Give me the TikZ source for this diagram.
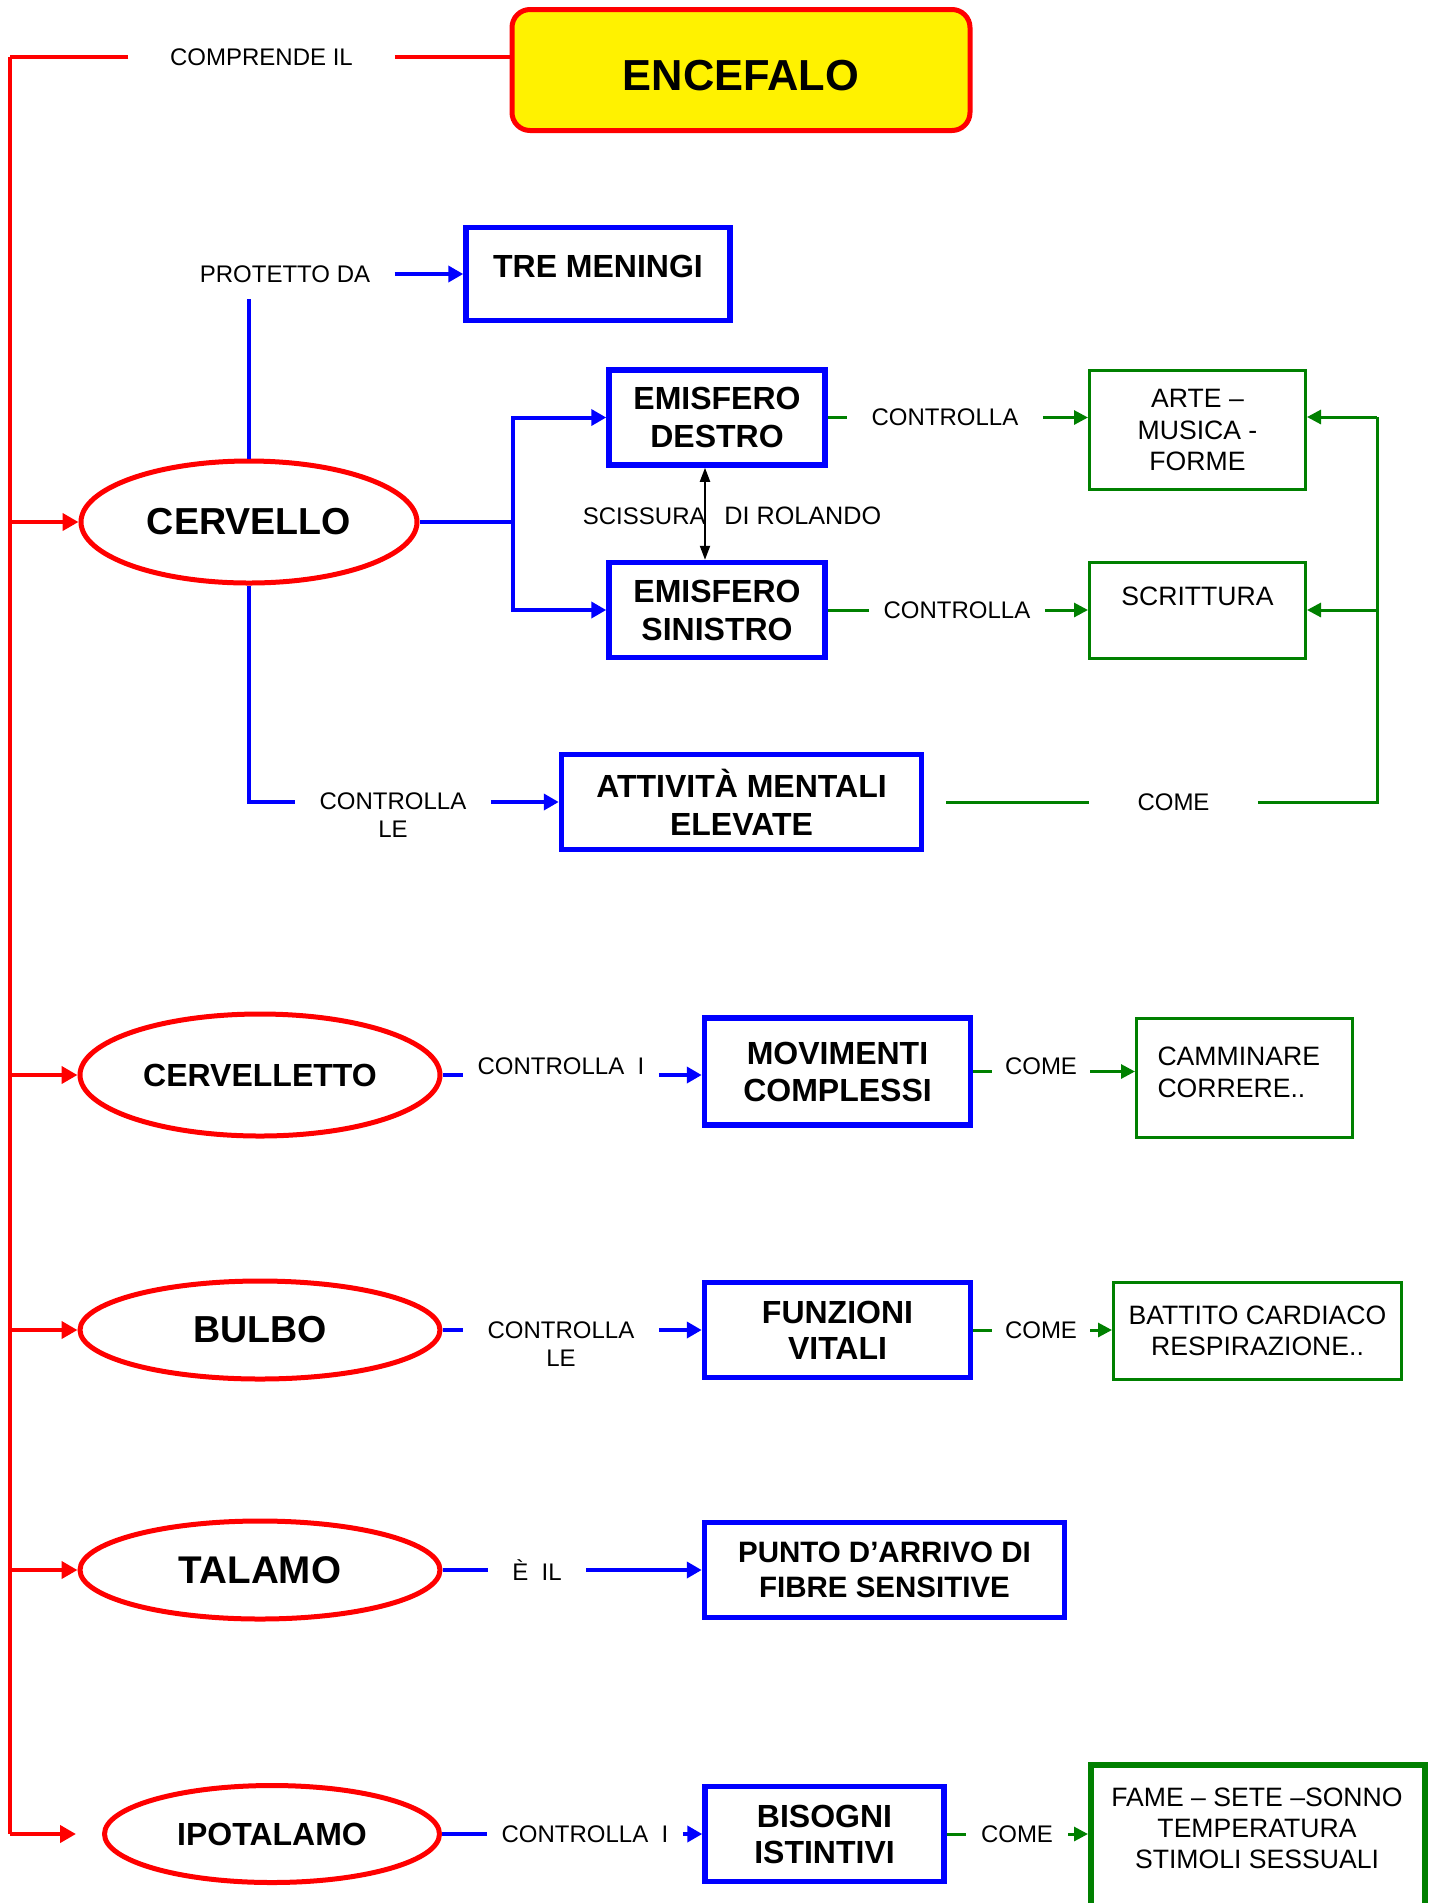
\documentclass[tikz,border=0pt]{standalone}
\usepackage{fontspec}
\setmainfont{Liberation Sans}
\usepackage{tikz}
\usetikzlibrary{shapes.geometric,arrows.meta,positioning}
\definecolor{ogreen}{RGB}{0,128,0}
\tikzstyle{roundbox} = [rectangle, rounded corners=9pt, draw=red, line width=2.5pt, fill=yellow, text=black, minimum width=229pt, minimum height=60.5pt, font=\bfseries\fontsize{21.7}{25}\selectfont]
\tikzstyle{organ} = [ellipse, draw=red, line width=2.5pt, text=black, inner sep=0pt, font=\bfseries\fontsize{18.8}{22}\selectfont]
\tikzstyle{bluebox} = [rectangle, draw=blue, line width=2.75pt, text=black, align=center, font=\bfseries\fontsize{16}{19}\selectfont]
\tikzstyle{greenbox} = [rectangle, draw=ogreen, line width=1.5pt, text=black, align=center, font=\fontsize{13.3}{15.75}\selectfont]
\tikzstyle{textonly} = [draw=none, fill=none, align=center, font=\fontsize{12}{14}\selectfont]
\tikzstyle{redline} = [draw=red, line width=2pt]
\tikzstyle{redarrow} = [draw=red, line width=2.2pt, -{Triangle[length=8pt,width=8.5pt]}]
\tikzstyle{blueline} = [draw=blue, line width=2pt]
\tikzstyle{bluearrow} = [blueline, -{Triangle[length=7.5pt,width=8pt]}]
\tikzstyle{greenline} = [draw=ogreen, line width=1.5pt]
\tikzstyle{greenarrow} = [greenline, -{Triangle[length=7pt,width=7pt]}]
\tikzstyle{biarrow} = [draw=black, line width=1pt, {Triangle[length=7pt,width=5pt]}-{Triangle[length=7pt,width=5pt]}]

\begin{document}
\begin{tikzpicture}[x=0.5pt,y=-0.5pt]
\useasboundingbox (0,0) rectangle (1438,1903);

% encefalo ===============================
\node[roundbox, text height=21pt] (enc) at (741,70) {ENCEFALO};
\node[textonly, inner xsep=20.75pt] (comp) at (261.5,57) {COMPRENDE IL};
\coordinate (spine) at (10,57);
\coordinate (spinebot) at (10,1834);

% cervello ===============================
\node[organ, minimum width=168pt, minimum height=61pt] (cerv) at (249,522) {CERVELLO};
\node[textonly, inner xsep=12pt, inner ysep=8pt] (prot) at (285,274) {PROTETTO DA};
\node[bluebox, minimum width=132pt, minimum height=46.5pt, text depth=8pt] (tre) at (598,274) {TRE MENINGI};
\coordinate (fork) at (513,522);
\node[bluebox, minimum width=108pt, minimum height=47.5pt] (des) at (717,417.5) {EMISFERO\\DESTRO};
\node[bluebox, minimum width=108pt, minimum height=47.5pt] (sin) at (717,610) {EMISFERO\\SINISTRO};
\node[textonly, anchor=east, inner sep=0pt] (sciss) at (706,516) {SCISSURA};
\node[textonly, anchor=west, inner sep=0pt, font=\fontsize{12.6}{14}\selectfont] (rol) at (724,516) {DI ROLANDO};
\node[textonly, inner xsep=12pt] (ctrlA) at (945,417.5) {CONTROLLA};
\node[textonly, inner xsep=7pt] (ctrlB) at (957,610) {CONTROLLA};
\node[greenbox, minimum width=108pt, minimum height=59.5pt] (arte) at (1197.5,430) {ARTE –\\MUSICA -\\FORME};
\node[greenbox, minimum width=108pt, minimum height=48pt, text depth=14pt] (scri) at (1197.5,610) {SCRITTURA};
\node[bluebox, minimum width=180pt, minimum height=47.5pt] (att) at (741.5,802) {ATTIVITÀ MENTALI\\ELEVATE};
\node[textonly, inner xsep=12pt] (cle) at (393,815) {CONTROLLA\\LE};
\node[textonly, inner xsep=24pt] (comeA) at (1173.5,802) {COME};
\coordinate (loop) at (1377,417);

% cervelletto ============================
\node[organ, minimum width=180pt, minimum height=61pt, font=\bfseries\fontsize{16}{19}\selectfont] (cerve) at (260,1075) {CERVELLETTO};
\node[textonly, inner xsep=7pt] (cli) at (561,1066) {CONTROLLA\ \ I};
\node[bluebox, minimum width=133pt, minimum height=53.5pt, font=\bfseries\fontsize{16}{18.5}\selectfont] (mov) at (837.5,1071.5) {MOVIMENTI\\COMPLESSI};
\node[textonly, inner xsep=6.5pt] (comeC) at (1041,1066) {COME};
\node[greenbox, minimum width=108pt, minimum height=59.5pt, align=left, text width=87pt, inner xsep=10pt, text depth=21.75pt] (cam) at (1244.5,1078) {CAMMINARE\\CORRERE..};

% bulbo ==================================
\node[organ, minimum width=180pt, minimum height=49pt] (bulbo) at (260,1330) {BULBO};
\node[textonly, inner xsep=12pt] (cle2) at (561,1344) {CONTROLLA\\LE};
\node[bluebox, minimum width=133pt, minimum height=47.5pt, font=\bfseries\fontsize{16}{18}\selectfont] (funz) at (837.5,1330) {FUNZIONI\\VITALI};
\node[textonly, inner xsep=6.5pt] (comeD) at (1041,1330) {COME};
\node[greenbox, minimum width=144pt, minimum height=48.5pt] (bat) at (1257.5,1331) {BATTITO CARDIACO\\RESPIRAZIONE..};

% talamo =================================
\node[organ, minimum width=180pt, minimum height=49pt, font=\bfseries\fontsize{19.3}{22}\selectfont] (tal) at (260,1570) {TALAMO};
\node[textonly, inner xsep=12pt] (eil) at (537,1570) {È\ \ IL};
\node[bluebox, minimum width=180pt, minimum height=47.5pt, font=\bfseries\fontsize{14.75}{17.5}\selectfont] (punto) at (884.5,1570) {PUNTO D’ARRIVO DI\\FIBRE SENSITIVE};

% ipotalamo ==============================
\node[organ, minimum width=167.5pt, minimum height=48.5pt, font=\bfseries\fontsize{16}{19}\selectfont] (ipo) at (272,1834) {IPOTALAMO};
\node[textonly, inner xsep=7pt] (cli2) at (585,1834) {CONTROLLA\ \ I};
\node[bluebox, minimum width=119.5pt, minimum height=47.5pt, font=\bfseries\fontsize{16}{18}\selectfont] (bis) at (824.5,1834) {BISOGNI\\ISTINTIVI};
\node[textonly, inner xsep=7.5pt] (comeE) at (1017,1834) {COME};
\node[greenbox, line width=3pt, minimum width=167pt, minimum height=83pt] (fame) at (1258,1848) {};
\node[textonly, font=\fontsize{13.3}{15.5}\selectfont] (fametxt) at (1257,1828) {FAME – SETE –SONNO\\TEMPERATURA\\STIMOLI SESSUALI};

% edges
\path[redline] (comp.east) -- (comp.east -| enc.west);
\path[redline] (comp.west) -- (spine);
\path[draw=red, line width=1.6pt] (spine) -- (spinebot);
\path[redarrow] (spine |- cerv) -- (cerv.west);
\path[redarrow] (spine |- cerve) -- (cerve.west);
\path[redarrow] (spine |- bulbo) -- (bulbo.west);
\path[redarrow] (spine |- tal) -- (tal.west);
\path[redarrow, shorten >=13pt] (spinebot) -- (ipo.west);

\path[blueline] (cerv.north) -- (cerv.north |- prot.south);
\path[bluearrow] (prot.east) -- (tre.west);
\path[blueline] (cerv.east) -- (fork);
\path[bluearrow] (fork) |- (des.west);
\path[bluearrow] (fork) |- (sin.west);
\path[biarrow] ([xshift=-6pt]des.south) -- ([xshift=-6pt]sin.north);
\path[blueline] (cerv.south) |- (cle.west |- att.west);
\path[bluearrow] (cle.east |- att.west) -- (att.west);

\path[greenline] (des.east) -- (ctrlA.west);
\path[greenarrow] (ctrlA.east) -- (ctrlA.east -| arte.west);
\path[greenline] (sin.east) -- (ctrlB.west);
\path[greenarrow] (ctrlB.east) -- (scri.west);
\path[greenline, shorten <=11pt] (att.east) -- (comeA.west);
\path[greenline] (comeA.east) -| (loop);
\path[greenarrow] (loop) -- (loop -| arte.east);
\path[greenarrow] (loop |- scri.east) -- (scri.east);

\path[blueline] (cerve.east) -- (cli.west |- cerve.east);
\path[bluearrow] (cli.east |- cerve.east) -- (mov.west |- cerve.east);
\path[greenline] (mov.east) -- (comeC.west |- mov.east);
\path[greenarrow] (comeC.east |- mov.east) -- (cam.west |- mov.east);

\path[blueline] (bulbo.east) -- (cle2.west |- bulbo.east);
\path[bluearrow] (cle2.east |- bulbo.east) -- (funz.west);
\path[greenline] (funz.east) -- (comeD.west);
\path[greenarrow] (comeD.east) -- (bat.west |- funz.east);

\path[blueline] (tal.east) -- (eil.west);
\path[bluearrow] (eil.east) -- (punto.west);

\path[blueline] (ipo.east) -- (cli2.west);
\path[bluearrow] (cli2.east) -- (bis.west);
\path[greenline] (bis.east) -- (comeE.west);
\path[greenarrow] (comeE.east) -- (comeE.east -| fame.west);

\end{tikzpicture}
\end{document}
